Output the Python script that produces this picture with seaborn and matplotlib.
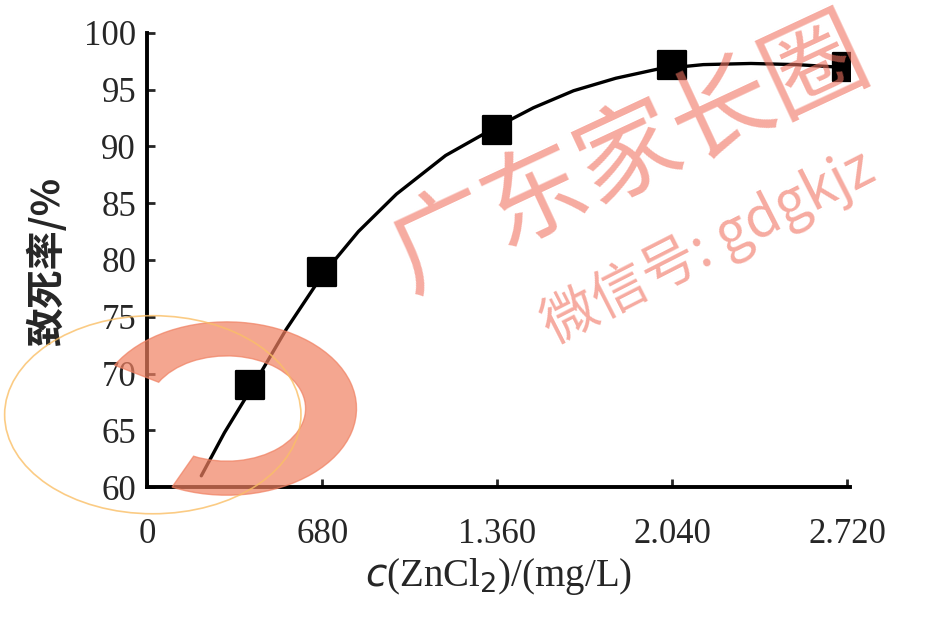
import numpy as np
import pandas as pd
import seaborn as sns
import matplotlib.pyplot as plt
from matplotlib.patches import Wedge, Circle

# measured points
conc = [400, 680, 1360, 2040, 2720]
death_rate = [69.0, 78.9, 91.4, 97.2, 97.0]

# hand drawn trend curve
curve_x = [210, 300, 413, 540, 681, 820, 968, 1159, 1339, 1500, 1656, 1820, 1982, 2160, 2345, 2520, 2670]
curve_y = [61.0, 64.8, 69.0, 73.9, 78.7, 82.5, 85.8, 89.2, 91.5, 93.4, 94.9, 96.0, 96.8, 97.2, 97.3, 97.2, 97.0]

xticks = [0, 680, 1360, 2040, 2720]
xtick_labels = ["0", "680", "1.360", "2.040", "2.720"]
yticks = [60, 65, 70, 75, 80, 85, 90, 95, 100]

sns.set_style("ticks")
plt.rcParams['font.family'] = ['Liberation Serif', 'Noto Sans CJK SC', 'DejaVu Sans']

data = pd.DataFrame({"conc": conc, "rate": death_rate})
curve = pd.DataFrame({"x": curve_x, "y": curve_y})

fig = plt.figure(figsize=(9.26, 6.19), dpi=100)
ax = fig.add_axes([0.159, 0.213, 0.759, 0.734])

sns.lineplot(data=curve, x="x", y="y", sort=False, color="black", linewidth=2.4, ax=ax)
sns.scatterplot(data=data, x="conc", y="rate", marker="s", s=420, color="black",
                edgecolor="black", ax=ax, zorder=5)

ax.set_xlim(0, 2730)
ax.set_ylim(60, 100)
ax.set_xticks(xticks)
ax.set_xticklabels(xtick_labels)
ax.set_yticks(yticks)
ax.tick_params(direction="in", length=6, width=2, labelsize=25)
ax.tick_params(axis="x", pad=22)
ax.tick_params(axis="y", pad=8)

for side in ["top", "right"]:
    ax.spines[side].set_visible(False)
for side in ["left", "bottom"]:
    ax.spines[side].set_linewidth(2.8)
    ax.spines[side].set_color("black")

ax.set_xlabel("$c$(ZnCl$_2$)/(mg/L)", fontsize=28, labelpad=4)
ax.set_ylabel("致死率/%", fontsize=28, fontweight="bold",
              family=["Noto Sans CJK SC", "DejaVu Sans"], labelpad=12)

# watermark
wm = (0.94, 0.45, 0.38)
fig.text(0.68, 0.75, "广东家长圈", fontsize=74, color=wm, alpha=0.6, rotation=25,
         ha="center", va="center", family=["Noto Sans CJK SC", "DejaVu Sans"])
fig.text(0.765, 0.60, "微信号: gdgkjz", fontsize=40, color=wm, alpha=0.6, rotation=27,
         ha="center", va="center", family=["Noto Sans CJK SC", "DejaVu Sans"])
logo = Wedge((0.245, 0.34), 0.14, -115, 150, width=0.055, transform=fig.transFigure,
             color=(0.94, 0.5, 0.38), alpha=0.7, zorder=10)
ring = Circle((0.165, 0.33), 0.16, transform=fig.transFigure, fill=False,
              edgecolor=(0.98, 0.75, 0.4), linewidth=1.2, alpha=0.8, zorder=10)
fig.patches.extend([logo, ring])

plt.savefig("out.png", dpi=100)
